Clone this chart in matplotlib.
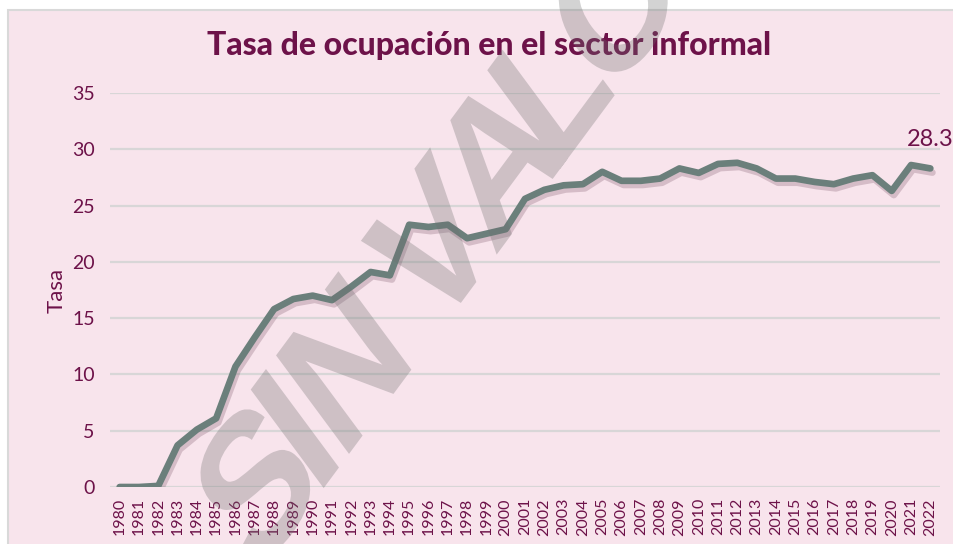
"""Tasa de ocupación en el sector informal, 1980-2022."""

import matplotlib

matplotlib.use("Agg")
import matplotlib.pyplot as plt  # noqa: E402
import matplotlib.patheffects as pe  # noqa: E402
from matplotlib.font_manager import FontProperties  # noqa: E402
from matplotlib.patches import PathPatch, Rectangle  # noqa: E402
from matplotlib.path import Path  # noqa: E402
from matplotlib.textpath import TextPath, TextToPath  # noqa: E402
from matplotlib.transforms import Affine2D  # noqa: E402

years = [str(y) for y in range(1980, 2023)]
tasa = [0.0, 0.0, 0.1, 3.7, 5.1, 6.1, 10.7, 13.3, 15.8, 16.7, 17.0, 16.6, 17.8,
        19.1, 18.8, 23.3, 23.1, 23.3, 22.1, 22.5, 22.9, 25.6, 26.4, 26.8, 26.9,
        28.0, 27.2, 27.2, 27.4, 28.3, 27.9, 28.7, 28.8, 28.3, 27.4, 27.4, 27.1,
        26.9, 27.4, 27.7, 26.3, 28.6, 28.3]
y_ticks = [0, 5, 10, 15, 20, 25, 30, 35]
watermark = "SIN VALOR"

PINK = "#f8e4ec"
MAROON = "#6d1249"
LINE = "#6b7f7b"

plt.rcParams["font.family"] = ["Lato", "DejaVu Sans"]

fig = plt.figure(figsize=(9.54, 5.44), dpi=100)
fig.patch.set_facecolor("white")
fig.patches.append(Rectangle((8 / 954, -0.02), 1.0, 1 - 10 / 544 + 0.02,
                             transform=fig.transFigure, facecolor=PINK,
                             edgecolor="#d9d9d9", linewidth=1.5, zorder=-5))

ax = fig.add_axes([110 / 954, 1 - 487 / 544, 830 / 954, 394 / 544])
ax.set_facecolor("none")

x = list(range(len(years)))
ax.plot(x, tasa, color=LINE, linewidth=4.8, solid_joinstyle="round",
        solid_capstyle="round", zorder=3,
        path_effects=[pe.SimpleLineShadow(offset=(1.5, -3), shadow_color="#5a3045",
                                          alpha=0.22),
                      pe.Normal()])

ax.annotate(f"{tasa[-1]:.1f}", (x[-1], tasa[-1]), xytext=(0, 13),
            textcoords="offset points", ha="center", va="bottom",
            fontsize=17, color=MAROON, annotation_clip=False)

ax.set_xlim(-0.5, len(years) - 0.5)
ax.set_ylim(0, 35)
ax.set_yticks(y_ticks)
ax.set_xticks(x)
ax.set_xticklabels(years, rotation=90)
ax.tick_params(axis="both", length=0, colors=MAROON)
ax.tick_params(axis="y", labelsize=14, pad=11)
ax.tick_params(axis="x", labelsize=11.5, pad=8)
ax.grid(axis="y", color="#d8d6d7", linewidth=1.6)
ax.set_axisbelow(True)
for s in ax.spines.values():
    s.set_visible(False)

ax.set_ylabel("Tasa", fontsize=16, color=MAROON, labelpad=4)

fig.text(489 / 954, 1 - 45 / 544, "Tasa de ocupación en el sector informal",
         ha="center", va="center", fontsize=23, fontweight="black", color=MAROON)

# watermark: tightly tracked big letters at 45 deg, stretched vertically
wm_size = 150
track = 0.86
prop = FontProperties(family="Liberation Sans", weight="bold", size=wm_size)
t2p = TextToPath()
bar_w = t2p.get_text_width_height_descent("|", prop, ismath=False)[0]
glyphs = []
for i, ch in enumerate(watermark):
    if ch == " ":
        continue
    adv = t2p.get_text_width_height_descent(watermark[:i] + "|", prop, ismath=False)[0] - bar_w
    glyphs.append(TextPath((adv * track, 0), ch, size=wm_size, prop=prop))
wm = Path.make_compound_path(*glyphs)
ext = wm.get_extents()
cx, cy = (ext.x0 + ext.x1) / 2, (ext.y0 + ext.y1) / 2
wm_tr = (Affine2D().translate(-cx, -cy).rotate_deg(45).scale(1, 1.35)
         .translate(470, 544 - 192))
fig.add_artist(PathPatch(wm, transform=wm_tr, facecolor="#6e6e6e",
                         edgecolor="none", alpha=0.3, zorder=10))

fig.savefig("out.png", dpi=100)
